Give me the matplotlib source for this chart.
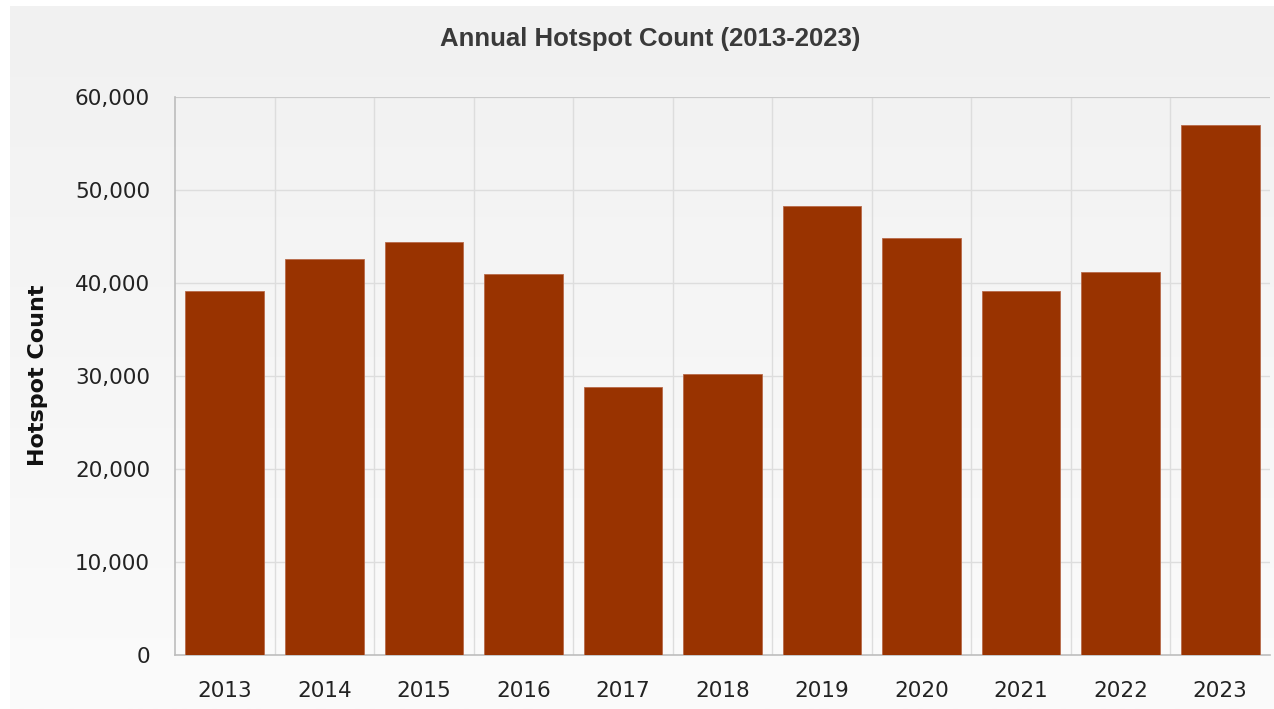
import numpy as np
import matplotlib.pyplot as plt

# Данные
years = ['2013', '2014', '2015', '2016', '2017', '2018',
         '2019', '2020', '2021', '2022', '2023']
counts = [39100, 42600, 44400, 41000, 28800, 30200,
          48300, 44800, 39100, 41200, 57000]

fig = plt.figure(figsize=(12.74, 7.09), dpi=100)
fig.patch.set_facecolor('white')

# Фон с градиентом
bg = fig.add_axes([10 / 1274, 0, 1 - 10 / 1274, 1 - 6 / 709], zorder=-10)
grad = np.linspace(0, 1, 256).reshape(-1, 1)
bg.imshow(grad, cmap=plt.matplotlib.colors.LinearSegmentedColormap.from_list(
    'bg', ['#f1f1f1', '#fbfbfb']), aspect='auto', extent=[0, 1, 0, 1], origin='upper')
bg.axis('off')

ax = fig.add_axes([175 / 1274, 1 - 655 / 709, 1095 / 1274, 558 / 709])
ax.patch.set_alpha(0)

x = np.arange(len(years))
ax.bar(x, counts, width=0.79, color='#993300', edgecolor='#b86a4a',
       linewidth=0.6, zorder=3)

ax.set_xlim(-0.5, len(years) - 0.5)
ax.set_ylim(0, 60000)
ax.set_yticks(np.arange(0, 60001, 10000))
ax.set_yticklabels([f'{v:,}' for v in range(0, 60001, 10000)])
ax.set_xticks(x)
ax.set_xticklabels(years)

# Сетка
for b in np.arange(0.5, len(years) - 0.5, 1):
    ax.axvline(b, color='#dddddd', linewidth=1, zorder=1)
for v in range(10000, 60001, 10000):
    ax.axhline(v, color='#dddddd', linewidth=1, zorder=1)
ax.axhline(60000, color='#c8c8c8', linewidth=1.2, zorder=2)

for s in ['top', 'right']:
    ax.spines[s].set_visible(False)
for s in ['left', 'bottom']:
    ax.spines[s].set_color('#bdbdbd')
    ax.spines[s].set_linewidth(1.2)

ax.tick_params(axis='both', length=0, labelsize=15.5, labelcolor='#222222')
ax.tick_params(axis='x', pad=19)
ax.tick_params(axis='y', pad=18)

fig.text(38 / 1274, 1 - 375 / 709, 'Hotspot Count', rotation=90,
         ha='center', va='center', fontsize=16, fontweight='bold',
         color='#111111')
fig.text(650 / 1274, 1 - 39 / 709, 'Annual Hotspot Count (2013-2023)',
         ha='center', va='center', fontsize=18.5, fontweight='bold',
         family='Liberation Sans', color='#3a3a3a')

fig.savefig('out.png', dpi=100)
